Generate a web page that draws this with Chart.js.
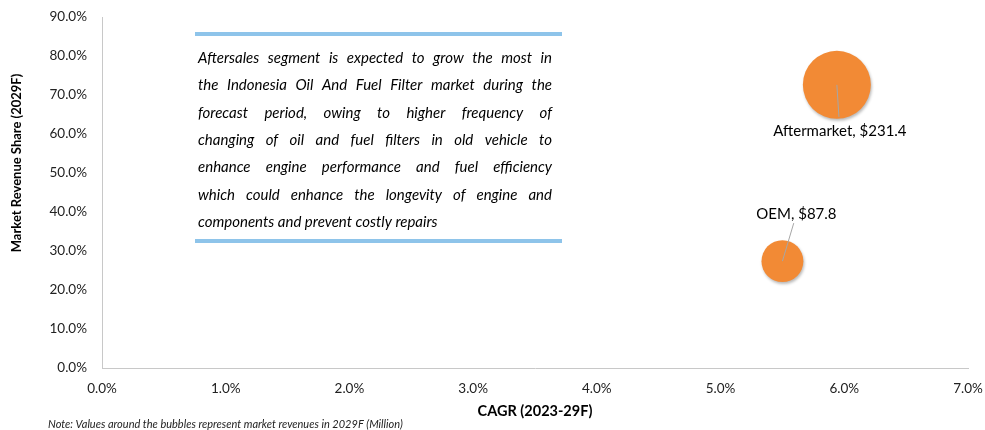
<!DOCTYPE html>
<html>
<head>
<meta charset="utf-8">
<script src="https://cdn.jsdelivr.net/npm/chart.js@4.4.1/dist/chart.umd.min.js"></script>
<style>
  html, body { margin: 0; padding: 0; background: #fff; }
  #wrap { width: 985px; height: 430px; position: relative; }
</style>
</head>
<body>
<div id="wrap"><canvas id="bubble-canvas"></canvas></div>
<script>
var segments = ['Aftermarket', 'OEM'];
var cagr = [5.94, 5.50];          // % (x axis)
var revenueShare = [72.6, 27.4];  // % (y axis)
var revenue = [231.4, 87.8];      // $ million, bubble size

var xTicks = [0, 1, 2, 3, 4, 5, 6, 7];
var yTicks = [0, 10, 20, 30, 40, 50, 60, 70, 80, 90];

var noteLines = [
    'Aftersales segment is expected to grow the most in',
    'the Indonesia Oil And Fuel Filter market during the',
    'forecast period, owing to higher frequency of',
    'changing of oil and fuel filters in old vehicle to',
    'enhance engine performance and fuel efficiency',
    'which could enhance the longevity of engine and',
    'components and prevent costly repairs'
];

// label offsets from bubble centre (px)
var labelOffsets = [[3, 46], [14, -47]];

var FONT = 'Lato, "Open Sans", sans-serif';

var bubbleData = segments.map(function (s, i) {
    return { x: cagr[i], y: revenueShare[i], r: 2.235 * Math.sqrt(revenue[i]) };
});

var extrasPlugin = {
    id: 'extras',
    beforeDatasetsDraw: function (chart) {
        var c = chart.ctx;
        c.save();
        c.shadowColor = 'rgba(0,0,0,0.28)';
        c.shadowBlur = 3;
        c.shadowOffsetX = 1;
        c.shadowOffsetY = 2;
    },
    afterDatasetsDraw: function (chart) {
        var c = chart.ctx;
        c.restore();
        var meta = chart.getDatasetMeta(0);
        c.save();
        c.font = '15px ' + FONT;
        c.fillStyle = '#000';
        c.textAlign = 'center';
        c.textBaseline = 'middle';
        meta.data.forEach(function (pt, i) {
            var lx = pt.x + labelOffsets[i][0];
            var ly = pt.y + labelOffsets[i][1];
            c.strokeStyle = '#A6A6A6';
            c.lineWidth = 1;
            c.beginPath();
            c.moveTo(pt.x, pt.y);
            var endY = ly + (labelOffsets[i][1] > 0 ? -14 : 9);
            var endX = pt.x + (lx - pt.x) * (endY - pt.y) / (ly - pt.y);
            c.lineTo(endX, endY);
            c.stroke();
            c.fillText(segments[i] + ', $' + revenue[i].toFixed(1), lx, ly);
        });
        c.restore();
    },
    afterDraw: function (chart) {
        var c = chart.ctx;
        c.save();
        // text box rules
        c.strokeStyle = '#8EC4EA';
        c.lineWidth = 4;
        c.beginPath();
        c.moveTo(195, 34); c.lineTo(562, 34);
        c.moveTo(195, 241); c.lineTo(562, 241);
        c.stroke();

        // justified italic text
        var left = 198, right = 552, top = 58.3, step = 27.3;
        c.fillStyle = '#000';
        c.textBaseline = 'middle';
        c.textAlign = 'left';
        c.font = 'italic 15px ' + FONT;
        noteLines.forEach(function (line, li) {
            var words = line.split(' ');
            var y = top + li * step;
            if (li === noteLines.length - 1) {
                c.fillText(line, left, y);
                return;
            }
            var total = 0;
            words.forEach(function (w) { total += c.measureText(w).width; });
            var gap = (right - left - total) / (words.length - 1);
            var x = left;
            words.forEach(function (w) {
                c.fillText(w, x, y);
                x += c.measureText(w).width + gap;
            });
        });

        // y axis title
        c.font = 'bold 13px ' + FONT;
        c.textAlign = 'center';
        c.translate(17, 163);
        c.rotate(-Math.PI / 2);
        c.fillText('Market Revenue Share (2029F)', 0, 0);
        c.restore();

        c.save();
        c.font = 'bold 14.5px ' + FONT;
        c.fillStyle = '#000';
        c.textAlign = 'center';
        c.textBaseline = 'middle';
        c.fillText('CAGR (2023-29F)', 535, 411);
        c.font = 'italic 11px ' + FONT;
        c.fillStyle = '#222';
        c.textAlign = 'left';
        c.fillText('Note: Values around the bubbles represent market revenues in 2029F (Million)', 48, 424);
        c.restore();
    }
};

var ctx = document.getElementById('bubble-canvas').getContext('2d');
var bubbleChart = new Chart(ctx, {
    type: 'bubble',
    data: {
        datasets: [{
            data: bubbleData,
            backgroundColor: '#F28A35',
            borderColor: '#F28A35',
            borderWidth: 0,
            hoverRadius: 0
        }]
    },
    options: {
        responsive: true,
        maintainAspectRatio: false,
        animation: false,
        layout: { autoPadding: false, padding: { left: 30, right: 0, top: 0, bottom: 32 } },
        plugins: {
            legend: { display: false },
            tooltip: { enabled: false }
        },
        scales: {
            x: {
                min: xTicks[0],
                max: xTicks[xTicks.length - 1],
                afterBuildTicks: function (s) { s.ticks = xTicks.map(function (v) { return { value: v }; }); },
                afterFit: function (s) { s.height = 30; s.paddingRight = 17; s.paddingLeft = 0; },
                ticks: {
                    padding: 13,
                    color: '#222',
                    font: { family: FONT, size: 13.5 },
                    maxRotation: 0,
                    callback: function (v) { return Number(v).toFixed(1) + '%'; }
                },
                grid: { display: false, drawTicks: false },
                border: { color: '#C8C8C8' }
            },
            y: {
                min: yTicks[0],
                max: yTicks[yTicks.length - 1],
                afterBuildTicks: function (s) { s.ticks = yTicks.map(function (v) { return { value: v }; }); },
                afterFit: function (s) { s.width = 72; s.paddingTop = 17; s.paddingBottom = 0; },
                ticks: {
                    padding: 15,
                    color: '#222',
                    font: { family: FONT, size: 13.5 },
                    callback: function (v) { return Number(v).toFixed(1) + '%'; }
                },
                grid: { display: false, drawTicks: false },
                border: { color: '#C8C8C8' }
            }
        }
    },
    plugins: [extrasPlugin]
});
</script>
</body>
</html>
